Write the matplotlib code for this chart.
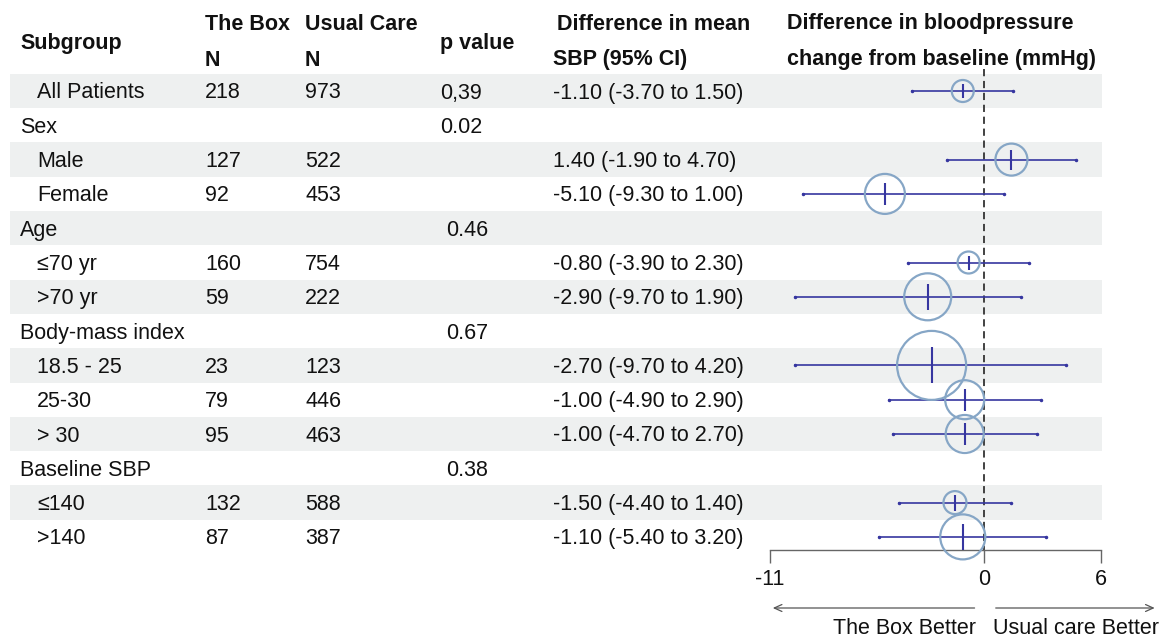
import matplotlib
matplotlib.use("Agg")
import matplotlib.pyplot as plt

plt.rcParams['font.family'] = ['Liberation Sans', 'DejaVu Sans']

# ---------------- data ----------------
subgroups = ["All Patients", "Sex", "Male", "Female", "Age", "≤70 yr", ">70 yr",
             "Body-mass index", "18.5 - 25", "25-30", "> 30", "Baseline SBP",
             "≤140", ">140"]
is_sub = [True, False, True, True, False, True, True, False, True, True, True,
          False, True, True]
box_n = ["218", "", "127", "92", "", "160", "59", "", "23", "79", "95", "", "132", "87"]
usual_n = ["973", "", "522", "453", "", "754", "222", "", "123", "446", "463", "",
           "588", "387"]
p_values = ["0,39", "0.02", "", "", "0.46", "", "", "0.67", "", "", "", "0.38", "", ""]
estimate = [-1.10, None, 1.40, -5.10, None, -0.80, -2.90, None, -2.70, -1.00, -1.00,
            None, -1.50, -1.10]
ci_low = [-3.70, None, -1.90, -9.30, None, -3.90, -9.70, None, -9.70, -4.90, -4.70,
          None, -4.40, -5.40]
ci_high = [1.50, None, 4.70, 1.00, None, 2.30, 1.90, None, 4.20, 2.90, 2.70,
           None, 1.40, 3.20]
# relative weight shown as circle radius (pixels)
circle_radius = [11, None, 16, 20, None, 11, 23.5, None, 34.5, 19.5, 19, None, 11.5, 22.5]
x_ticks = [-11, 0, 6]

# ---------------- layout ----------------
W, H = 1162, 640
DPI = 100
ROW0 = 91.0      # pixel y of first row centre
STEP = 34.3      # pixel spacing between rows
FS = 15.5

def prow(py):
    return (py - ROW0) / STEP

y_top = prow(0)
y_bot = prow(H)

fig = plt.figure(figsize=(W / DPI, H / DPI), dpi=DPI)
ax_t = fig.add_axes([0, 0, 1, 1], zorder=0)
ax_t.set_xlim(0, W)
ax_t.set_ylim(y_bot, y_top)
ax_t.axis('off')

n = len(subgroups)
rows = list(range(n))

# shaded bands
shaded = [r for r in rows if r % 2 == 0]
ax_t.barh(shaded, width=1092, left=10, height=1.0, color='#eef0f0', zorder=0)

bl = 7.5 / STEP  # baseline offset (row units)
txt_kw = dict(fontsize=FS, color='#111111', va='baseline')

# headers
hdr_kw = dict(fontsize=FS, color='#111111', va='baseline', fontweight='bold')
ax_t.text(20, prow(41) + bl, "Subgroup", **hdr_kw)
ax_t.text(205, prow(22) + bl, "The Box", **hdr_kw)
ax_t.text(205, prow(58) + bl, "N", **hdr_kw)
ax_t.text(305, prow(22) + bl, "Usual Care", **hdr_kw)
ax_t.text(305, prow(58) + bl, "N", **hdr_kw)
ax_t.text(440, prow(41) + bl, "p value", **hdr_kw)
ax_t.text(557, prow(22) + bl, "Difference in mean", **hdr_kw)
ax_t.text(553, prow(58) + bl, "SBP (95% CI)", **hdr_kw)
ax_t.text(787, prow(22) + bl, "Difference in bloodpressure", **hdr_kw)
ax_t.text(787, prow(58) + bl, "change from baseline (mmHg)", **hdr_kw)

for r in rows:
    ax_t.text(37 if is_sub[r] else 20, r + bl, subgroups[r], **txt_kw)
    ax_t.text(205, r + bl, box_n[r], **txt_kw)
    ax_t.text(305, r + bl, usual_n[r], **txt_kw)
    if p_values[r]:
        ax_t.text(440 if r < 2 else 446, r + bl, p_values[r], **txt_kw)
    if estimate[r] is not None:
        s = f"{estimate[r]:.2f} ({ci_low[r]:.2f} to {ci_high[r]:.2f})"
        ax_t.text(553, r + bl, s, **txt_kw)

# ---------------- forest axes ----------------
ax = fig.add_axes([770 / W, 0, 331 / W, 1], zorder=1)
ax.patch.set_visible(False)
ax.set_xlim(-11, 6)
ax.set_ylim(y_bot, y_top)
for sp in ['top', 'left', 'right']:
    ax.spines[sp].set_visible(False)
axis_row = prow(550)
ax.spines['bottom'].set_position(('data', axis_row))
ax.spines['bottom'].set_color('#666666')
ax.spines['bottom'].set_linewidth(1.0)
ax.set_yticks([])
ax.set_xticks(x_ticks)
ax.set_xticklabels([str(t) for t in x_ticks])
ax.tick_params(axis='x', direction='out', length=9.4, width=1.0, color='#666666',
               labelsize=FS, labelcolor='#111111', pad=4.5)

# dashed null line
ax.vlines(0, prow(69), axis_row, colors='#333333', linestyles=(0, (4, 2.6)), lw=1.3,
          zorder=2)

navy = '#3636a0'
circ = '#86a6c6'
for r in rows:
    if estimate[r] is None:
        continue
    ax.plot([ci_low[r], ci_high[r]], [r, r], color=navy, lw=1.2, zorder=3,
            marker='o', ms=1.5, markevery=[0, 1])
    rad = circle_radius[r]
    ax.scatter([estimate[r]], [r], s=(2 * rad * 0.72) ** 2, facecolors='none',
               edgecolors=circ, linewidths=1.6, zorder=4)
    ax.plot([estimate[r]], [r], marker='|', ms=(0.9 * rad + 5) * 0.72,
            mew=1.5, color=navy, zorder=5)

# direction arrows
arr_row = prow(608)
akw = dict(arrowstyle='->,head_length=0.55,head_width=0.25', color='#555555', lw=0.9)
ax.annotate('', xy=(-11, arr_row), xytext=(-0.35, arr_row), arrowprops=akw,
            annotation_clip=False)
ax.annotate('', xy=(8.9, arr_row), xytext=(0.45, arr_row), arrowprops=akw,
            annotation_clip=False)
ax.text(-0.42, prow(627) + bl, "The Box Better", fontsize=FS, color='#111111',
        ha='right', va='baseline', clip_on=False)
ax.text(0.45, prow(627) + bl, "Usual care Better", fontsize=FS, color='#111111',
        ha='left', va='baseline', clip_on=False)

fig.savefig("out.png", dpi=DPI)
